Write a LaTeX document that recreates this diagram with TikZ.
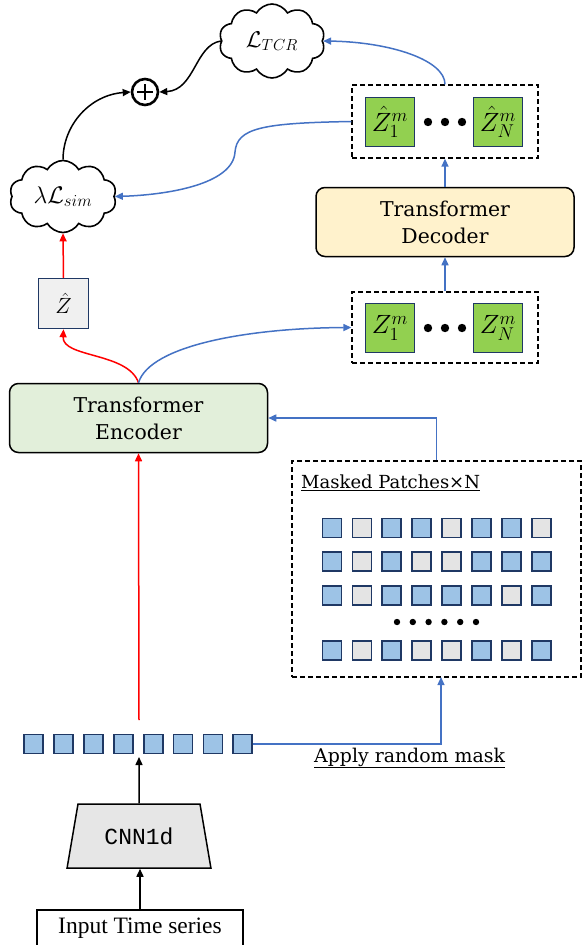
\RequirePackage{fix-cm}
\documentclass[tikz,border=0pt]{standalone}
\usepackage{fontspec}
\setmainfont{DejaVu Serif}
\newfontfamily\plainserif{Liberation Serif}
\setmonofont{Liberation Mono}
\usetikzlibrary{shapes.symbols,shapes.geometric,arrows.meta}

\definecolor{navy}{HTML}{1F3864}
\definecolor{pblue}{HTML}{9DC3E6}
\definecolor{pgray}{HTML}{E4E4E4}
\definecolor{zgreen}{HTML}{92D050}
\definecolor{encfill}{HTML}{E2EFDA}
\definecolor{decfill}{HTML}{FFF2CC}
\definecolor{linkblue}{HTML}{4472C4}
\definecolor{trapfill}{HTML}{E6E6E6}

\newcommand{\bigmath}[1]{\scalebox{1.2}{$#1$}}

\tikzset{
  patch/.style={draw=navy, line width=1.8pt, minimum size=19pt, inner sep=0pt, fill=pblue},
  gpatch/.style={patch, fill=pgray},
  zpatch/.style={draw=navy, line width=1.4pt, minimum size=49pt, inner sep=0pt, fill=zgreen,
    font=\fontsize{22}{24}\selectfont},
  blockbox/.style={draw, line width=1.5pt, rounded corners=9pt, minimum width=258pt,
    minimum height=69pt, align=center, font=\fontsize{20.4}{27}\selectfont},
  dashbox/.style={draw, dashed, line width=1.3pt, dash pattern=on 5pt off 3pt},
  losscloud/.style={cloud, draw, line width=1.6pt, cloud puffs=10, cloud puff arc=120,
    aspect=1.45, inner sep=0pt},
  tip/.style={-{Triangle[length=8pt,width=7pt]}},
  redlink/.style={tip, red, line width=1.5pt},
  bluelink/.style={tip, linkblue, line width=1.5pt},
  blacklink/.style={tip, black, line width=1.5pt},
}

\begin{document}
\begin{tikzpicture}[x=1pt, y=-1pt]
\useasboundingbox (0,0) rectangle (582,945);

% input and 1d convolution
\node[draw, line width=1.3pt, minimum width=206pt, minimum height=36pt, inner sep=0pt,
  font=\plainserif\fontsize{23.5}{25}\selectfont] (input) at (140,928) {Input Time series};
\node[trapezium, draw, line width=1.5pt, fill=trapfill, trapezium left angle=70,
  trapezium right angle=70, trapezium stretches=true, minimum width=145pt,
  minimum height=64pt, inner sep=0pt, font=\ttfamily\fontsize{23}{25}\selectfont]
  (cnn) at (139,836) {CNN1d};

% patch sequence
\foreach \i in {0,...,7}
  \node[patch] (p\i) at (33.5+29.9*\i,744) {};
\coordinate (rowbot) at (139,757);
\coordinate (rowtop) at (139,720);

% encoder / decoder
\node[blockbox, fill=encfill] (enc) at (138.5,418) {Transformer\\Encoder};
\node[blockbox, fill=decfill] (dec) at (445,222) {Transformer\\Decoder};

% masked patches panel
\node[dashbox, minimum width=289pt, minimum height=216pt] (mask) at (436.5,569) {};
\node[anchor=west, inner sep=0pt, font=\fontsize{18}{20}\selectfont] (masklabel) at (301,483)
  {\underline{Masked Patches×N}};
\foreach \pat [count=\r] in {{1,0,1,1,0,1,1,0},{1,0,1,0,0,1,1,1},{1,0,1,1,1,1,0,1},{1,0,1,0,0,1,0,1}} {
  \pgfmathsetmacro{\yy}{\r==4 ? 650.5 : 528+33.7*(\r-1)}
  \foreach \b [count=\c] in \pat {
    \pgfmathsetmacro{\xx}{332+29.9*(\c-1)}
    \ifnum\b=1
      \node[patch] (m\r-\c) at (\xx,\yy) {};
    \else
      \node[gpatch] (m\r-\c) at (\xx,\yy) {};
    \fi
  }
}
\foreach \k in {0,...,5}
  \fill (397+15.8*\k,622) circle (3.2pt);
\coordinate (maskin) at (441,677);
\node[anchor=west, inner sep=0pt, font=\fontsize{18.9}{20}\selectfont] (masktext) at (314,758)
  {\underline{Apply random mask}};

% latent tokens
\node[gpatch, fill=white!94!black, minimum size=50pt, line width=1.5pt,
  font=\fontsize{22}{24}\selectfont] (zhat) at (63.5,303.5) {$\hat{Z}$};
\node[dashbox, minimum width=186pt, minimum height=71pt] (zbox) at (445,327.5) {};
\node[zpatch] (z1) at (390,328) {\bigmath{Z_1^m}};
\node[zpatch] (zN) at (498,328) {\bigmath{Z_N^m}};
\node[dashbox, minimum width=186pt, minimum height=73pt] (zhbox) at (445,121.5) {};
\node[zpatch] (zh1) at (390,122) {\bigmath{\hat{Z}_1^m}};
\node[zpatch] (zhN) at (498,122) {\bigmath{\hat{Z}_N^m}};
\foreach \x in {428,445,462} {
  \fill (\x,328) circle (4.2pt);
  \fill (\x,122) circle (4.2pt);
}

% losses
\node[losscloud, minimum width=106pt, minimum height=74pt,
  font=\fontsize{19}{21}\selectfont] (ltcr) at (272,41) {\bigmath{\mathcal{L}_{TCR}}};
\node[losscloud, minimum width=107pt, minimum height=72pt,
  font=\fontsize{20}{22}\selectfont] (lsim) at (63,196.5) {\bigmath{\lambda\mathcal{L}_{sim}}};
\node[circle, draw, line width=2.6pt, minimum size=26pt, inner sep=0pt] (plus) at (145,92) {};
\draw[line width=2.8pt] (plus.center) +(-8,0) -- +(8,0);
\draw[line width=2.8pt] (plus.center) +(0,-8) -- +(0,8);

% connectors
\draw[blacklink] (input.north) -- (input.north |- cnn.south);
\draw[blacklink] (cnn.north) -- (rowbot);
\draw[redlink] (rowtop) -- (enc.south);
\draw[bluelink, line width=1.2pt] (p7.east) -| (maskin);
\draw[bluelink] (mask.north) |- (enc.east);
\draw[redlink] (enc.north) .. controls (128,352) and (62,358) .. (zhat.south);
\draw[redlink] (zhat.north) -- (lsim.south);
\draw[bluelink] (enc.north) .. controls (150,345) and (250,328) .. (zbox.west);
\draw[bluelink] (zbox.north) -- (dec.south);
\draw[bluelink] (dec.north) -- (zhbox.south);
\draw[bluelink] (zhbox.north) .. controls (445,60) and (390,42) .. (ltcr.east);
\draw[bluelink] (zhbox.west) .. controls (262,123) and (237,128) .. (235,152)
  .. controls (233,185) and (165,195) .. (lsim.east);
\draw[blacklink] (lsim.north) .. controls (63,125) and (90,95) .. (plus.west);
\draw[blacklink] (ltcr.west) .. controls (195,45) and (195,90) .. (plus.east);
\end{tikzpicture}
\end{document}
